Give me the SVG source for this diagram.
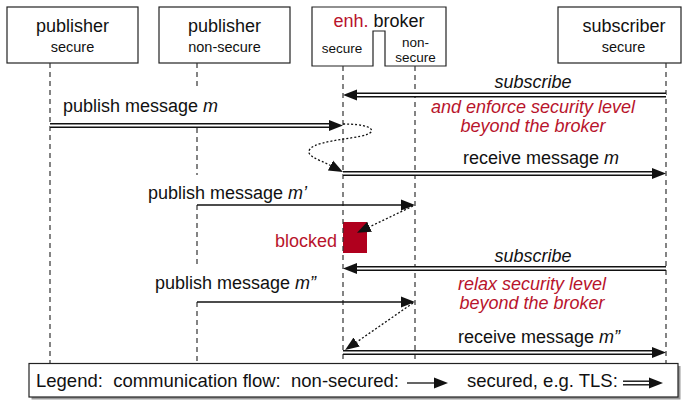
<svg xmlns="http://www.w3.org/2000/svg" width="682" height="400" viewBox="0 0 682 400">
  <style>
    text { font-family: "Liberation Sans", Arial, Helvetica, sans-serif; fill: #111; }
    .t18 { font-size: 18px; }
    .t185 { font-size: 18.5px; }
    .t14 { font-size: 14.5px; }
    .t13 { font-size: 13.5px; }
    .mid { text-anchor: middle; }
    .it { font-style: italic; }
    .red { fill: #b8142c; }
    .box { fill: #fff; stroke: #222; stroke-width: 1.2; }
    .life { fill: none; stroke: #333; stroke-width: 1.2; stroke-dasharray: 5 4; }
    .sec-o { fill: none; stroke: #111; stroke-width: 5; }
    .sec-i { fill: none; stroke: #fff; stroke-width: 2.2; }
    .plain { fill: none; stroke: #111; stroke-width: 1.3; }
    .dot { fill: none; stroke: #111; stroke-width: 1.3; stroke-dasharray: 2 2; }
  </style>
  <defs>
    <marker id="ah" markerUnits="userSpaceOnUse" viewBox="0 -6 15 12" refX="0" refY="0" markerWidth="15" markerHeight="12" orient="auto">
      <path d="M0,-5.5 L14,0 L0,5.5 Z" fill="#111"/>
    </marker>
  </defs>

  <!-- blocked marker -->
  <g id="blocked">
    <rect x="343" y="222" width="24" height="31" fill="#b0001e"/>
    <text class="t18 red" x="337" y="246.5" text-anchor="end">blocked</text>
  </g>

  <!-- nodes -->
  <g id="publisher-secure">
    <rect class="box" x="7" y="7" width="131" height="56"/>
    <text class="t18 mid" x="72.5" y="32">publisher</text>
    <text class="t14 mid" x="72.5" y="51.5">secure</text>
    <line class="life" x1="50" y1="63" x2="50" y2="363"/>
  </g>
  <g id="publisher-nonsecure">
    <rect class="box" x="159" y="7" width="131" height="56"/>
    <text class="t18 mid" x="224.5" y="32">publisher</text>
    <text class="t14 mid" x="224.5" y="51.5">non-secure</text>
    <path class="life" d="M197,63 V87 M197,128 V175 M197,205 V266 M197,302 V363"/>
  </g>
  <g id="broker">
    <path class="box" d="M312,7 H446 V66 H385 V31 H373 V66 H312 Z"/>
    <text class="t18 mid" x="379" y="27"><tspan class="red">enh.</tspan> broker</text>
    <text class="t13 mid" x="342" y="53">secure</text>
    <text class="t13 mid" x="415.5" y="46.5">non-</text>
    <text class="t13 mid" x="415.5" y="61.5">secure</text>
    <line class="life" x1="343" y1="66" x2="343" y2="363"/>
    <line class="life" x1="415" y1="66" x2="415" y2="363"/>
  </g>
  <g id="subscriber">
    <rect class="box" x="558" y="7" width="123" height="56"/>
    <text class="t18 mid" x="624" y="32">subscriber</text>
    <text class="t14 mid" x="623.5" y="51.5">secure</text>
    <line class="life" x1="666" y1="63" x2="666" y2="363"/>
  </g>

  <!-- connectors -->
  <g id="connectors">
    <!-- subscribe 1 (secured) -->
    <line class="sec-o" x1="666" y1="95" x2="357" y2="95" marker-end="url(#ah)"/>
    <line class="sec-i" x1="666" y1="95" x2="357" y2="95"/>
    <text class="t18 mid it" x="533" y="88">subscribe</text>
    <text class="t18 mid it red" x="533" y="113">and enforce security level</text>
    <text class="t18 mid it red" x="533" y="132">beyond the broker</text>

    <!-- publish message m (secured) -->
    <line class="sec-o" x1="50" y1="125.5" x2="329" y2="125.5" marker-end="url(#ah)"/>
    <line class="sec-i" x1="50" y1="125.5" x2="329" y2="125.5"/>
    <text class="t18" x="63" y="111.5">publish message <tspan class="it">m</tspan></text>

    <!-- internal forwarding (dotted curve) -->
    <path class="dot" d="M343,124 C365,124 374,128 371,132 C366,139 318,139 310,149 C305,156 318,159 330.5,165.5" marker-end="url(#ah)"/>

    <!-- receive message m (secured) -->
    <line class="sec-o" x1="343" y1="173.5" x2="652" y2="173.5" marker-end="url(#ah)"/>
    <line class="sec-i" x1="343" y1="173.5" x2="652" y2="173.5"/>
    <text class="t18 mid" x="541" y="164">receive message <tspan class="it">m</tspan></text>

    <!-- publish message m' (non-secured) -->
    <line class="plain" x1="197" y1="205" x2="401" y2="205" marker-end="url(#ah)"/>
    <text class="t18" x="148" y="198.5">publish message <tspan class="it">m’</tspan></text>
    <line class="dot" x1="413" y1="206" x2="369.6" y2="226.8" marker-end="url(#ah)"/>

    <!-- subscribe 2 (secured) -->
    <line class="sec-o" x1="666" y1="268.5" x2="357" y2="268.5" marker-end="url(#ah)"/>
    <line class="sec-i" x1="666" y1="268.5" x2="357" y2="268.5"/>
    <text class="t18 mid it" x="533" y="261.5">subscribe</text>
    <text class="t18 mid it red" x="532" y="289.5">relax security level</text>
    <text class="t18 mid it red" x="532" y="309">beyond the broker</text>

    <!-- publish message m'' (non-secured) -->
    <line class="plain" x1="197" y1="302" x2="401" y2="302" marker-end="url(#ah)"/>
    <text class="t18" x="155" y="289">publish message <tspan class="it">m”</tspan></text>
    <line class="dot" x1="413" y1="303" x2="356.6" y2="342.1" marker-end="url(#ah)"/>

    <!-- receive message m'' (secured) -->
    <line class="sec-o" x1="343" y1="352.5" x2="652" y2="352.5" marker-end="url(#ah)"/>
    <line class="sec-i" x1="343" y1="352.5" x2="652" y2="352.5"/>
    <text class="t18 mid" x="539" y="343">receive message <tspan class="it">m”</tspan></text>
  </g>

  <!-- legend -->
  <g id="legend">
    <rect x="31.5" y="366" width="649" height="33.5" fill="#9a9a9a"/>
    <rect x="29" y="363.5" width="649" height="33.5" fill="#fff" stroke="#222" stroke-width="1.2"/>
    <text class="t185" x="36" y="387" xml:space="preserve">Legend:  communication flow:  non-secured:</text>
    <line class="plain" x1="407" y1="383" x2="434" y2="383" marker-end="url(#ah)"/>
    <text class="t185" x="467" y="387">secured, e.g. TLS:</text>
    <line class="sec-o" x1="623" y1="383" x2="649" y2="383" marker-end="url(#ah)"/>
    <line class="sec-i" x1="623" y1="383" x2="649" y2="383"/>
  </g>
</svg>
